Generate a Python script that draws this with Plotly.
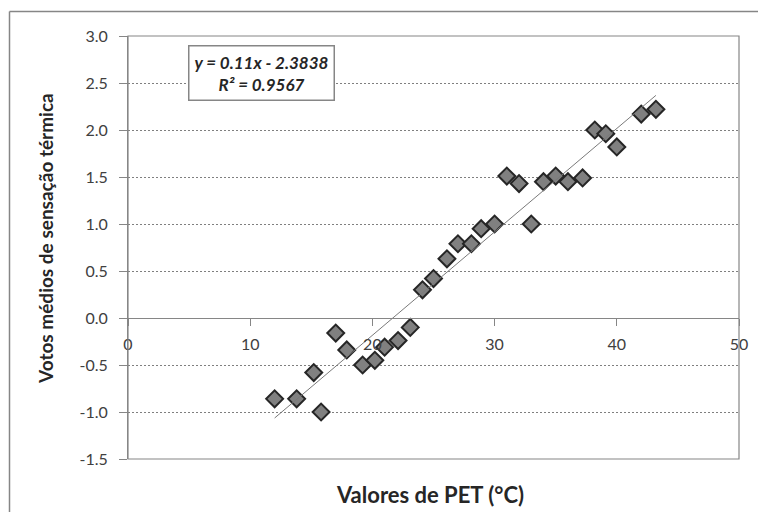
import plotly.graph_objects as go

# Data
pet_values = [12.0, 13.8, 15.2, 15.8, 17.0, 17.9, 19.2, 20.2, 21.0, 22.1, 23.1,
              24.1, 25.0, 26.1, 27.0, 28.1, 28.9, 30.0, 31.0, 32.0, 33.0, 34.0,
              35.0, 36.0, 37.2, 38.2, 39.1, 40.0, 42.0, 43.2]
votes = [-0.86, -0.86, -0.58, -1.00, -0.16, -0.34, -0.50, -0.45, -0.31, -0.24, -0.10,
         0.30, 0.42, 0.63, 0.79, 0.79, 0.95, 1.00, 1.51, 1.43, 1.00, 1.45,
         1.51, 1.45, 1.49, 2.00, 1.96, 1.82, 2.17, 2.22]

slope = 0.11
intercept = -2.3838
r_squared = 0.9567

y_tickvals = [-1.5, -1.0, -0.5, 0.0, 0.5, 1.0, 1.5, 2.0, 2.5, 3.0]
y_ticktext = ["-1.5", "-1.0", "-0.5", "0.0", "0.5", "1.0", "1.5", "2.0", "2.5", "3.0"]
x_tickvals = [0, 10, 20, 30, 40, 50]

x_title = "Valores de PET (°C)"
y_title = "Votos médios de sensação térmica"

FONT = "Lato"
TXT = "#262626"
TICK = "#404040"
AXIS = "#868686"

trend_x = [min(pet_values), max(pet_values)]
trend_y = [slope * v + intercept for v in trend_x]

fig = go.Figure()
fig.add_trace(go.Scatter(
    x=pet_values, y=votes, mode="markers",
    marker=dict(symbol="diamond", size=13, color="#808080",
                line=dict(color="#262626", width=2)),
    showlegend=False, hoverinfo="x+y"))
fig.add_trace(go.Scatter(
    x=trend_x, y=trend_y, mode="lines",
    line=dict(color="#7a7a7a", width=1),
    showlegend=False, hoverinfo="skip"))

OFF = 8  # page body margin offset
W, H = 766 - 2 * OFF, 520 - 2 * OFF
# plot area in screen pixels: left 128, right 739, top 36, bottom 459
ml, mt = 128 - OFF, 36 - OFF
mr = W - (739 - OFF)
mb = H - (459 - OFF)
pw, ph = W - ml - mr, H - mt - mb

def px_to_paper_x(px):
    return (px - OFF - ml) / pw

def px_to_paper_y(py):
    return (H - mb - (py - OFF)) / ph

zero_frac = (0 - y_tickvals[0]) / (y_tickvals[-1] - y_tickvals[0])

frame_l, frame_t = px_to_paper_x(9.5), px_to_paper_y(11.5)
frame_r, frame_b = px_to_paper_x(770), px_to_paper_y(530)

fig.update_layout(
    width=W, height=H,
    margin=dict(l=ml, r=mr, t=mt, b=mb, autoexpand=False),
    paper_bgcolor="white", plot_bgcolor="white",
    font=dict(family=FONT, color=TICK),
    xaxis=dict(
        range=[0, 50], tickvals=x_tickvals, anchor="free", position=zero_frac,
        showline=True, linecolor=AXIS, linewidth=1,
        ticks="outside", ticklen=7, tickcolor=AXIS, tickwidth=1,
        showgrid=False, zeroline=False, automargin=False,
        tickfont=dict(family=FONT, size=16, color=TICK),
        ticklabelstandoff=5,
    ),
    yaxis=dict(
        range=[-1.5, 3.0], tickvals=y_tickvals, ticktext=y_ticktext,
        showline=True, linecolor=AXIS, linewidth=1,
        ticks="outside", ticklen=8, tickcolor=AXIS, tickwidth=1,
        showgrid=True, gridcolor="#7f7f7f", gridwidth=1, griddash="2px,2px",
        zeroline=False, automargin=False,
        tickfont=dict(family=FONT, size=16, color=TICK),
        ticklabelstandoff=8,
    ),
    shapes=[
        dict(type="rect", xref="paper", yref="paper", x0=0, x1=1, y0=0, y1=1,
             line=dict(color=AXIS, width=1.2), layer="above"),
        dict(type="line", xref="paper", yref="paper",
             x0=frame_l, x1=frame_r, y0=frame_t, y1=frame_t,
             line=dict(color=AXIS, width=1.5), layer="below"),
        dict(type="line", xref="paper", yref="paper",
             x0=frame_l, x1=frame_l, y0=frame_b, y1=frame_t,
             line=dict(color=AXIS, width=1.5), layer="below"),
    ],
    annotations=[
        dict(text=f"<b><i>y = {slope}x - {abs(intercept)}</i></b><br><b><i>R² = {r_squared}</i></b>",
             xref="paper", yref="paper",
             x=px_to_paper_x(261), y=px_to_paper_y(73.5),
             xanchor="center", yanchor="middle", showarrow=False,
             font=dict(family=FONT, size=17, color=TXT),
             bgcolor="white", bordercolor=AXIS, borderwidth=1.5, borderpad=5,
             align="center"),
        dict(text=f"<b>{x_title}</b>", xref="paper", yref="paper",
             x=px_to_paper_x(430), y=px_to_paper_y(494),
             xanchor="center", yanchor="middle", showarrow=False,
             font=dict(family=FONT, size=22, color=TXT)),
        dict(text=f"<b>{y_title}</b>", xref="paper", yref="paper",
             x=px_to_paper_x(45), y=px_to_paper_y(239),
             xanchor="center", yanchor="middle", showarrow=False, textangle=-90,
             font=dict(family=FONT, size=19, color=TXT)),
    ],
)

fig.write_html("out.html")
